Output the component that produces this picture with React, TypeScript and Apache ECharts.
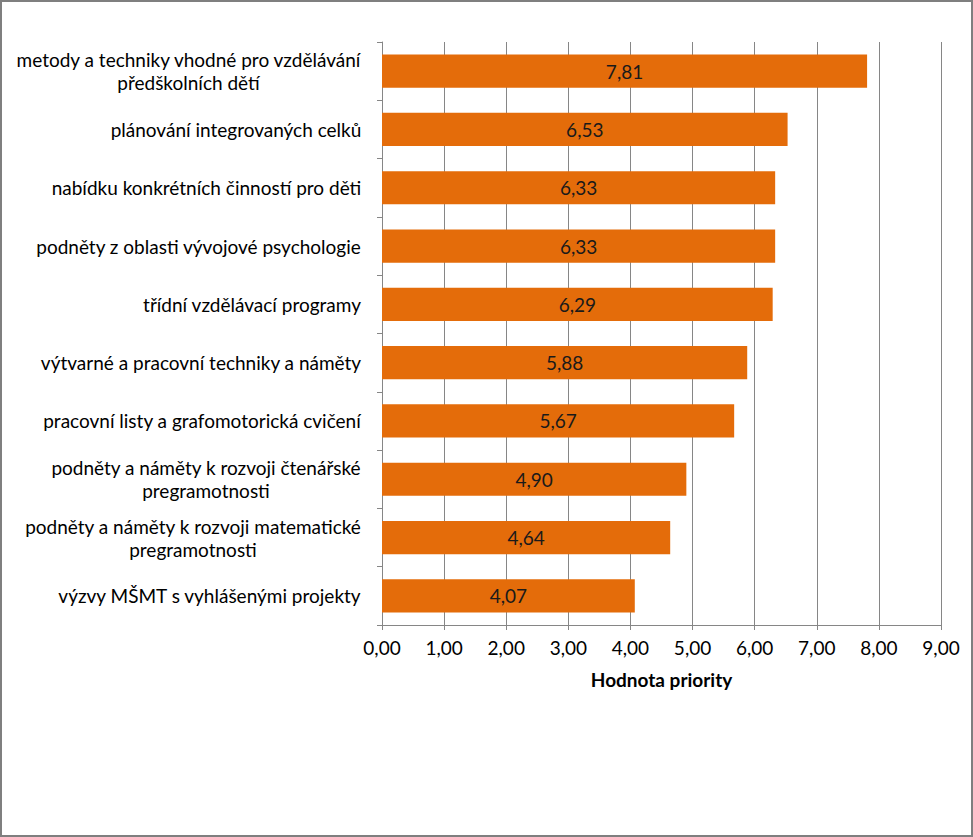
import React, { useEffect, useRef } from "react";
import * as echarts from "echarts";

const categories: string[] = [
  "metody a techniky vhodné pro vzdělávání\npředškolních dětí",
  "plánování integrovaných celků",
  "nabídku konkrétních činností pro děti",
  "podněty z oblasti vývojové psychologie",
  "třídní vzdělávací programy",
  "výtvarné a pracovní techniky a náměty",
  "pracovní listy a grafomotorická cvičení",
  "podněty a náměty k rozvoji čtenářské\npregramotnosti",
  "podněty a náměty k rozvoji matematické\npregramotnosti",
  "výzvy MŠMT s vyhlášenými projekty",
];
const values: number[] = [7.81, 6.53, 6.33, 6.33, 6.29, 5.88, 5.67, 4.9, 4.64, 4.07];
const axisName = "Hodnota priority";

const FONT = "Lato";
const FS = 19;

const fmt = (v: number) => v.toFixed(2).replace(".", ",");

export default function App() {
  const ref = useRef<HTMLDivElement>(null);
  useEffect(() => {
    if (!ref.current) return;
    const chart = echarts.init(ref.current, null, { renderer: "svg" });
    const cv = document.createElement("canvas");
    const ctx = cv.getContext("2d")!;
    ctx.font = `${FS}px ${FONT}`;
    const rich: Record<string, any> = {};
    categories.forEach((c, i) => {
      const w = Math.max(...c.split("\n").map((l) => ctx.measureText(l).width));
      rich["r" + i] = {
        width: Math.ceil(w) + 1,
        align: "center",
        fontFamily: FONT,
        fontSize: FS,
        color: "#000",
        lineHeight: 23,
      };
    });
    chart.setOption({
      animation: false,
      backgroundColor: "#fff",
      grid: { left: 382, right: 32, top: 42, bottom: 212, containLabel: false },
      xAxis: {
        type: "value",
        min: 0,
        max: 9,
        interval: 1,
        name: axisName,
        nameLocation: "middle",
        nameGap: 45,
        nameTextStyle: { fontFamily: FONT, fontSize: FS, fontWeight: "bold", color: "#000" },
        axisLine: { show: true, lineStyle: { color: "#868686", width: 1 } },
        axisTick: { show: true, length: 5, lineStyle: { color: "#868686" } },
        axisLabel: {
          formatter: (v: number) => fmt(v),
          fontFamily: FONT,
          fontSize: FS,
          color: "#000",
          margin: 13,
        },
        splitLine: { show: true, lineStyle: { color: "#868686", width: 1 } },
      },
      yAxis: {
        type: "category",
        inverse: true,
        data: categories,
        axisLine: { show: true, lineStyle: { color: "#868686", width: 1 } },
        axisTick: { show: true, length: 5, lineStyle: { color: "#868686" } },
        axisLabel: {
          margin: 20,
          fontFamily: FONT,
          fontSize: FS,
          color: "#000",
          rich,
          formatter: (val: string, idx: number) =>
            val
              .split("\n")
              .map((l) => `{r${idx}|${l}}`)
              .join("\n"),
        },
        splitLine: { show: false },
      },
      series: [
        {
          type: "bar",
          data: values,
          barCategoryGap: "43%",
          itemStyle: { color: "#E46C0A" },
          label: {
            show: true,
            position: "inside",
            formatter: (p: any) => fmt(p.value),
            fontFamily: FONT,
            fontSize: FS,
            color: "#1a1a1a",
          },
        },
      ],
    });
    return () => chart.dispose();
  }, []);
  return (
    <div style={{ position: "absolute", left: 0, top: 0, width: 973, height: 837, background: "#fff" }}>
      <div ref={ref} style={{ position: "absolute", left: 0, top: 0, width: 973, height: 837 }} />
      <div
        style={{
          position: "absolute",
          left: 0,
          top: 0,
          width: 973,
          height: 837,
          boxSizing: "border-box",
          border: "2px solid #7f7f7f",
          pointerEvents: "none",
        }}
      />
    </div>
  );
}
